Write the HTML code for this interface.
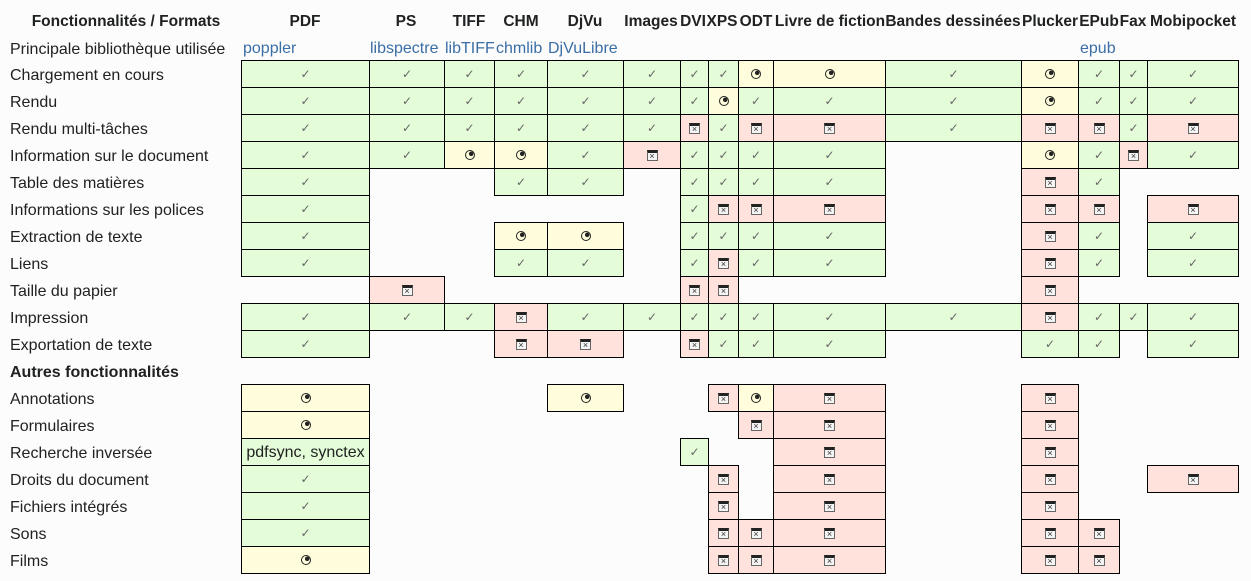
<!DOCTYPE html>
<html><head><meta charset="utf-8"><style>
body{margin:0;background:#fcfcfc;font-family:"Liberation Sans","DejaVu Sans",sans-serif;color:#202122;width:1251px;height:581px;overflow:hidden;position:relative}
.h{position:absolute;top:13px;font-weight:bold;font-size:15.5px;white-space:nowrap;transform:translateX(-50%)}
.l{position:absolute;left:10px;font-size:16px;white-space:nowrap;line-height:27px;margin-top:2px}
.lib{position:absolute;top:40px;font-size:16px;color:#3a6ea5;white-space:nowrap}
i{position:absolute;box-sizing:border-box;border:1px solid #000;height:28px;display:flex;align-items:center;justify-content:center;font-style:normal}
.g{background:#e4fcd8}.y{background:#fffddc}.r{background:#ffe2dc}
.g::after{content:"✓";color:#666;font-size:12px}
.y::after{content:"";width:8px;height:8px;border:1px solid #222;border-radius:50%;background:radial-gradient(circle at 65% 35%,#222 0 2px,transparent 2.5px)}
.r::after{content:"×";box-sizing:border-box;width:11px;height:11px;border:1px solid #666;border-top:3px solid #222;background:#f4f4f4;color:#333;font-size:9px;line-height:6px;text-align:center}
.t::after{content:none}
.t{padding-top:2px}
.c0{left:241px;width:129px}.c1{left:369px;width:76px}.c2{left:444px;width:51px}.c3{left:494px;width:54px}.c4{left:547px;width:77px}.c5{left:623px;width:58px}.c6{left:680px;width:29px}.c7{left:708px;width:31px}.c8{left:738px;width:36px}.c9{left:773px;width:113px}.c10{left:885px;width:137px}.c11{left:1021px;width:58px}.c12{left:1078px;width:42px}.c13{left:1119px;width:29px}.c14{left:1147px;width:92px}
.r0{top:60px}.r1{top:87px}.r2{top:114px}.r3{top:141px}.r4{top:168px}.r5{top:195px}.r6{top:222px}.r7{top:249px}.r8{top:276px}.r9{top:303px}.r10{top:330px}.r12{top:384px}.r13{top:411px}.r14{top:438px}.r15{top:465px}.r16{top:492px}.r17{top:519px}.r18{top:546px}
</style></head><body>
<div class="h" style="left:126px">Fonctionnalités / Formats</div>
<div class="h" style="left:305px">PDF</div>
<div class="h" style="left:406px">PS</div>
<div class="h" style="left:469px">TIFF</div>
<div class="h" style="left:521px">CHM</div>
<div class="h" style="left:585px">DjVu</div>
<div class="h" style="left:651px">Images</div>
<div class="h" style="left:693px">DVI</div>
<div class="h" style="left:722px">XPS</div>
<div class="h" style="left:756px">ODT</div>
<div class="h" style="left:830px">Livre de fiction</div>
<div class="h" style="left:953px">Bandes dessinées</div>
<div class="h" style="left:1050px">Plucker</div>
<div class="h" style="left:1099px">EPub</div>
<div class="h" style="left:1133px">Fax</div>
<div class="h" style="left:1193px">Mobipocket</div>

<div class="l" style="top:34px">Principale bibliothèque utilisée</div>
<div class="lib" style="left:243px">poppler</div>
<div class="lib" style="left:370px">libspectre</div>
<div class="lib" style="left:445px">libTIFF</div>
<div class="lib" style="left:496px">chmlib</div>
<div class="lib" style="left:548px">DjVuLibre</div>
<div class="lib" style="left:1080px">epub</div>

<div class="l" style="top:60px">Chargement en cours</div>
<div class="l" style="top:87px">Rendu</div>
<div class="l" style="top:114px">Rendu multi-tâches</div>
<div class="l" style="top:141px">Information sur le document</div>
<div class="l" style="top:168px">Table des matières</div>
<div class="l" style="top:195px">Informations sur les polices</div>
<div class="l" style="top:222px">Extraction de texte</div>
<div class="l" style="top:249px">Liens</div>
<div class="l" style="top:276px">Taille du papier</div>
<div class="l" style="top:303px">Impression</div>
<div class="l" style="top:330px">Exportation de texte</div>
<div class="l" style="top:357px;font-weight:bold">Autres fonctionnalités</div>
<div class="l" style="top:384px">Annotations</div>
<div class="l" style="top:411px">Formulaires</div>
<div class="l" style="top:438px">Recherche inversée</div>
<div class="l" style="top:465px">Droits du document</div>
<div class="l" style="top:492px">Fichiers intégrés</div>
<div class="l" style="top:519px">Sons</div>
<div class="l" style="top:546px">Films</div>

<i class="g c0 r0"></i><i class="g c1 r0"></i><i class="g c2 r0"></i><i class="g c3 r0"></i><i class="g c4 r0"></i><i class="g c5 r0"></i><i class="g c6 r0"></i><i class="g c7 r0"></i><i class="y c8 r0"></i><i class="y c9 r0"></i><i class="g c10 r0"></i><i class="y c11 r0"></i><i class="g c12 r0"></i><i class="g c13 r0"></i><i class="g c14 r0"></i>
<i class="g c0 r1"></i><i class="g c1 r1"></i><i class="g c2 r1"></i><i class="g c3 r1"></i><i class="g c4 r1"></i><i class="g c5 r1"></i><i class="g c6 r1"></i><i class="y c7 r1"></i><i class="g c8 r1"></i><i class="g c9 r1"></i><i class="g c10 r1"></i><i class="y c11 r1"></i><i class="g c12 r1"></i><i class="g c13 r1"></i><i class="g c14 r1"></i>
<i class="g c0 r2"></i><i class="g c1 r2"></i><i class="g c2 r2"></i><i class="g c3 r2"></i><i class="g c4 r2"></i><i class="g c5 r2"></i><i class="r c6 r2"></i><i class="g c7 r2"></i><i class="r c8 r2"></i><i class="r c9 r2"></i><i class="g c10 r2"></i><i class="r c11 r2"></i><i class="r c12 r2"></i><i class="g c13 r2"></i><i class="r c14 r2"></i>
<i class="g c0 r3"></i><i class="g c1 r3"></i><i class="y c2 r3"></i><i class="y c3 r3"></i><i class="g c4 r3"></i><i class="r c5 r3"></i><i class="g c6 r3"></i><i class="g c7 r3"></i><i class="g c8 r3"></i><i class="g c9 r3"></i><i class="y c11 r3"></i><i class="g c12 r3"></i><i class="r c13 r3"></i><i class="g c14 r3"></i>
<i class="g c0 r4"></i><i class="g c3 r4"></i><i class="g c4 r4"></i><i class="g c6 r4"></i><i class="g c7 r4"></i><i class="g c8 r4"></i><i class="g c9 r4"></i><i class="r c11 r4"></i><i class="g c12 r4"></i>
<i class="g c0 r5"></i><i class="g c6 r5"></i><i class="r c7 r5"></i><i class="r c8 r5"></i><i class="r c9 r5"></i><i class="r c11 r5"></i><i class="r c12 r5"></i><i class="r c14 r5"></i>
<i class="g c0 r6"></i><i class="y c3 r6"></i><i class="y c4 r6"></i><i class="g c6 r6"></i><i class="g c7 r6"></i><i class="g c8 r6"></i><i class="g c9 r6"></i><i class="r c11 r6"></i><i class="g c12 r6"></i><i class="g c14 r6"></i>
<i class="g c0 r7"></i><i class="g c3 r7"></i><i class="g c4 r7"></i><i class="g c6 r7"></i><i class="r c7 r7"></i><i class="g c8 r7"></i><i class="g c9 r7"></i><i class="r c11 r7"></i><i class="g c12 r7"></i><i class="g c14 r7"></i>
<i class="r c1 r8"></i><i class="r c6 r8"></i><i class="r c7 r8"></i><i class="r c11 r8"></i>
<i class="g c0 r9"></i><i class="g c1 r9"></i><i class="g c2 r9"></i><i class="r c3 r9"></i><i class="g c4 r9"></i><i class="g c5 r9"></i><i class="g c6 r9"></i><i class="g c7 r9"></i><i class="g c8 r9"></i><i class="g c9 r9"></i><i class="g c10 r9"></i><i class="r c11 r9"></i><i class="g c12 r9"></i><i class="g c13 r9"></i><i class="g c14 r9"></i>
<i class="g c0 r10"></i><i class="r c3 r10"></i><i class="r c4 r10"></i><i class="r c6 r10"></i><i class="g c7 r10"></i><i class="g c8 r10"></i><i class="g c9 r10"></i><i class="g c11 r10"></i><i class="g c12 r10"></i><i class="g c14 r10"></i>
<i class="y c0 r12"></i><i class="y c4 r12"></i><i class="r c7 r12"></i><i class="y c8 r12"></i><i class="r c9 r12"></i><i class="r c11 r12"></i>
<i class="y c0 r13"></i><i class="r c8 r13"></i><i class="r c9 r13"></i><i class="r c11 r13"></i>
<i class="g t c0 r14" style="font-size:16px">pdfsync, synctex</i><i class="g c6 r14"></i><i class="r c9 r14"></i><i class="r c11 r14"></i>
<i class="g c0 r15"></i><i class="r c7 r15"></i><i class="r c9 r15"></i><i class="r c11 r15"></i><i class="r c14 r15"></i>
<i class="g c0 r16"></i><i class="r c7 r16"></i><i class="r c9 r16"></i><i class="r c11 r16"></i>
<i class="g c0 r17"></i><i class="r c7 r17"></i><i class="r c8 r17"></i><i class="r c9 r17"></i><i class="r c11 r17"></i><i class="r c12 r17"></i>
<i class="y c0 r18"></i><i class="r c7 r18"></i><i class="r c8 r18"></i><i class="r c9 r18"></i><i class="r c11 r18"></i><i class="r c12 r18"></i>
</body></html>
